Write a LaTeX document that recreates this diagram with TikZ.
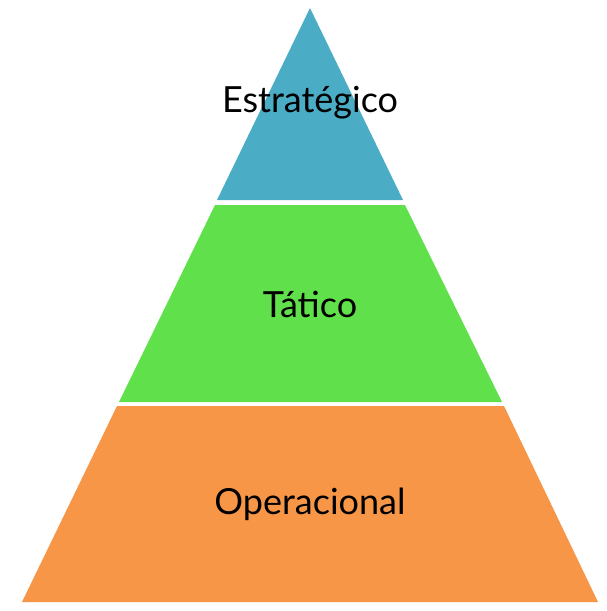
\documentclass[tikz,border=0pt]{standalone}
\usepackage{fontspec}
\setmainfont{Lato}
\definecolor{topblue}{HTML}{4BACC6}
\definecolor{midgreen}{HTML}{60E04A}
\definecolor{botorange}{HTML}{F79646}
\begin{document}
\begin{tikzpicture}[x=1pt,y=-1pt,
  layer/.style={draw=none},
  lbl/.style={font=\fontsize{36}{40}\selectfont, text=black, inner sep=0pt}]
\useasboundingbox (0,0) rectangle (606,611);
\fill[white] (0,0) rectangle (606,611);
% apex (310,8), base y=602 from 22 to 598
\coordinate (apex) at (310,8);
\fill[topblue] (apex) -- (403,200) -- (217,200) -- cycle;
\fill[midgreen] (215,205) -- (405,205) -- (502,402) -- (119,402) -- cycle;
\fill[botorange] (117,406) -- (504,406) -- (598,602) -- (22,602) -- cycle;
\node[lbl] (estr) at (310,103) {Estratégico};
\node[lbl] (tat) at (310,304) {Tático};
\node[lbl] (oper) at (310,504) {Operacional};
\end{tikzpicture}
\end{document}
